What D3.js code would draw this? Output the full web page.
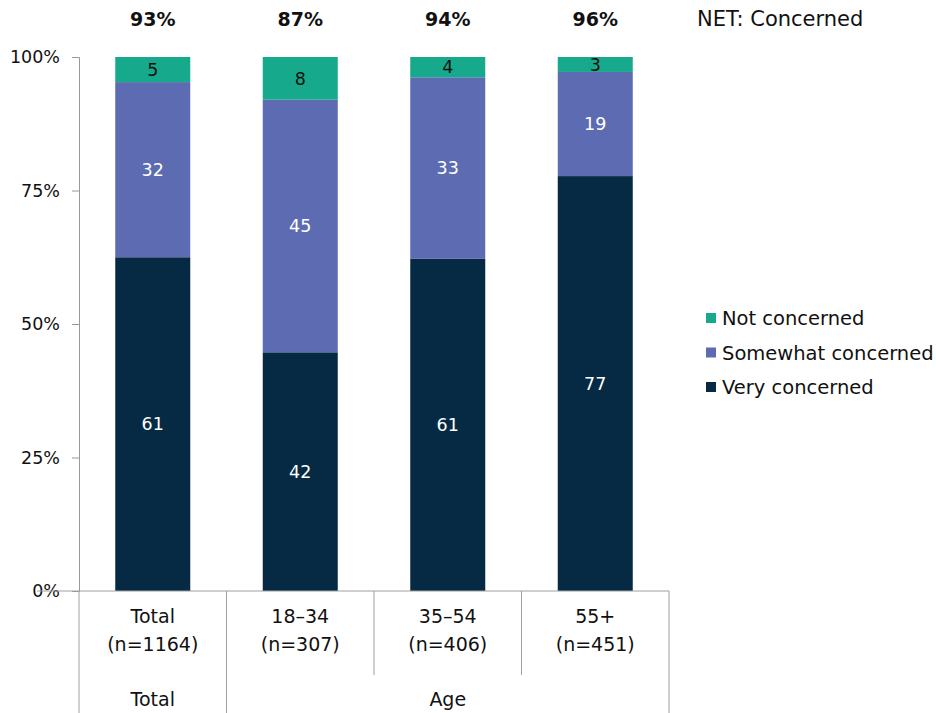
<!DOCTYPE html>
<html><head><meta charset="utf-8">
<script src="https://cdn.jsdelivr.net/npm/d3@7"></script>
<style>body{margin:0;background:#fff}svg{display:block}text{font-family:"DejaVu Sans",sans-serif}</style>
</head><body><svg id="c" width="936" height="713"></svg>
<script>
const categories = ["Total|(n=1164)", "18\u201334|(n=307)", "35\u201354|(n=406)", "55+|(n=451)"];
const groups = [{name:"Total", from:0, to:0}, {name:"Age", from:1, to:3}];
const series = ["Very concerned", "Somewhat concerned", "Not concerned"];
// bar shares (% of bar height)
const veryShare = [62.5, 44.7, 62.2, 77.7];
const somewhatShare = [32.8, 47.3, 34.0, 19.5];
const notShare = [4.7, 8.0, 3.8, 2.8];
// printed labels
const veryLabel = [61, 42, 61, 77];
const somewhatLabel = [32, 45, 33, 19];
const notLabel = [5, 8, 4, 3];
const netConcerned = ["93%", "87%", "94%", "96%"];
const yTicks = [0, 0.25, 0.5, 0.75, 1];
const colors = ["#062a43", "#5d6bb2", "#17a98b"];
const labelColors = ["#fff", "#fff", "#111"];

const svg = d3.select("#c");
const m = {l:79, r:669, t:57, b:591};
const x = d3.scaleBand().domain(categories).range([m.l, m.r]).paddingInner(0).paddingOuter(0);
const y = d3.scaleLinear().domain([0,1]).range([m.b, m.t]);
const bw = 75;

const rows = categories.map((c,i)=>({cat:c,
  v:[veryShare[i], somewhatShare[i], notShare[i]],
  l:[veryLabel[i], somewhatLabel[i], notLabel[i]]}));
rows.forEach((r,i)=>{
  const tot = d3.sum(r.v);
  let cum = 0;
  r.v.forEach((val,k)=>{
    const y0 = cum/tot, y1 = (cum+val)/tot; cum += val;
    const cx = x(r.cat) + x.bandwidth()/2;
    svg.append("rect").attr("x", cx-bw/2).attr("width", bw)
      .attr("y", y(y1)).attr("height", y(y0)-y(y1)).attr("fill", colors[k]);
    svg.append("text").attr("x", cx).attr("y", (y(y0)+y(y1))/2).attr("dy","0.36em")
      .attr("text-anchor","middle").attr("font-size",17.5).attr("fill",labelColors[k]).text(r.l[k]);
  });
  svg.append("text").attr("x", x(r.cat)+x.bandwidth()/2).attr("y", 26)
    .attr("text-anchor","middle").attr("font-size",19).attr("font-weight","bold").attr("fill","#111").text(netConcerned[i]);
});

// y axis
const ya = svg.append("g").attr("transform",`translate(${m.l},0)`)
  .call(d3.axisLeft(y).tickValues(yTicks).tickFormat(d3.format(".0%")).tickSize(7).tickPadding(12));
ya.select(".domain").attr("stroke","#999");
ya.selectAll(".tick line").attr("stroke","#999");
ya.selectAll("text").attr("font-size",17.5).attr("fill","#111").attr("font-family","DejaVu Sans,sans-serif");

// category axis
const lc = "#a0a0a0";
const catFont = "'Open Sans',sans-serif";
svg.append("line").attr("x1",m.l-42).attr("x2",m.r).attr("y1",m.b).attr("y2",m.b).attr("stroke",lc);
const bounds = categories.map(c=>x(c)).concat([m.r]);
bounds.forEach((bx,i)=>{
  const isGroupEdge = groups.some(g=>x(categories[g.from])===bx) || i===bounds.length-1;
  svg.append("line").attr("x1",bx).attr("x2",bx).attr("y1",m.b).attr("y2", isGroupEdge?713:675).attr("stroke",lc);
});
categories.forEach(c=>{
  const parts = c.split("|");
  const t = svg.append("text").attr("text-anchor","middle").attr("font-size",19).attr("font-family",catFont).attr("fill","#111");
  t.append("tspan").attr("x", x(c)+x.bandwidth()/2).attr("y",623).text(parts[0]);
  t.append("tspan").attr("x", x(c)+x.bandwidth()/2).attr("y",651).text(parts[1]);
});
groups.forEach(g=>{
  const a = x(categories[g.from]), b = x(categories[g.to])+x.bandwidth();
  svg.append("text").attr("x",(a+b)/2).attr("y",706).attr("text-anchor","middle").attr("font-size",19).attr("font-family",catFont).attr("fill","#111").text(g.name);
});

// NET label
svg.append("text").attr("x",697).attr("y",26).attr("font-size",21).attr("fill","#111").text("NET: Concerned");

// legend
const leg = series.slice().reverse();
leg.forEach((s,i)=>{
  const ly = 318 + i*34.5;
  const k = series.indexOf(s);
  svg.append("rect").attr("x",706).attr("y",ly-5).attr("width",10).attr("height",10).attr("fill",colors[k]);
  svg.append("text").attr("x",722).attr("y",ly).attr("dy","0.36em").attr("font-size",19.5).attr("fill","#111").text(s);
});
</script></body></html>
